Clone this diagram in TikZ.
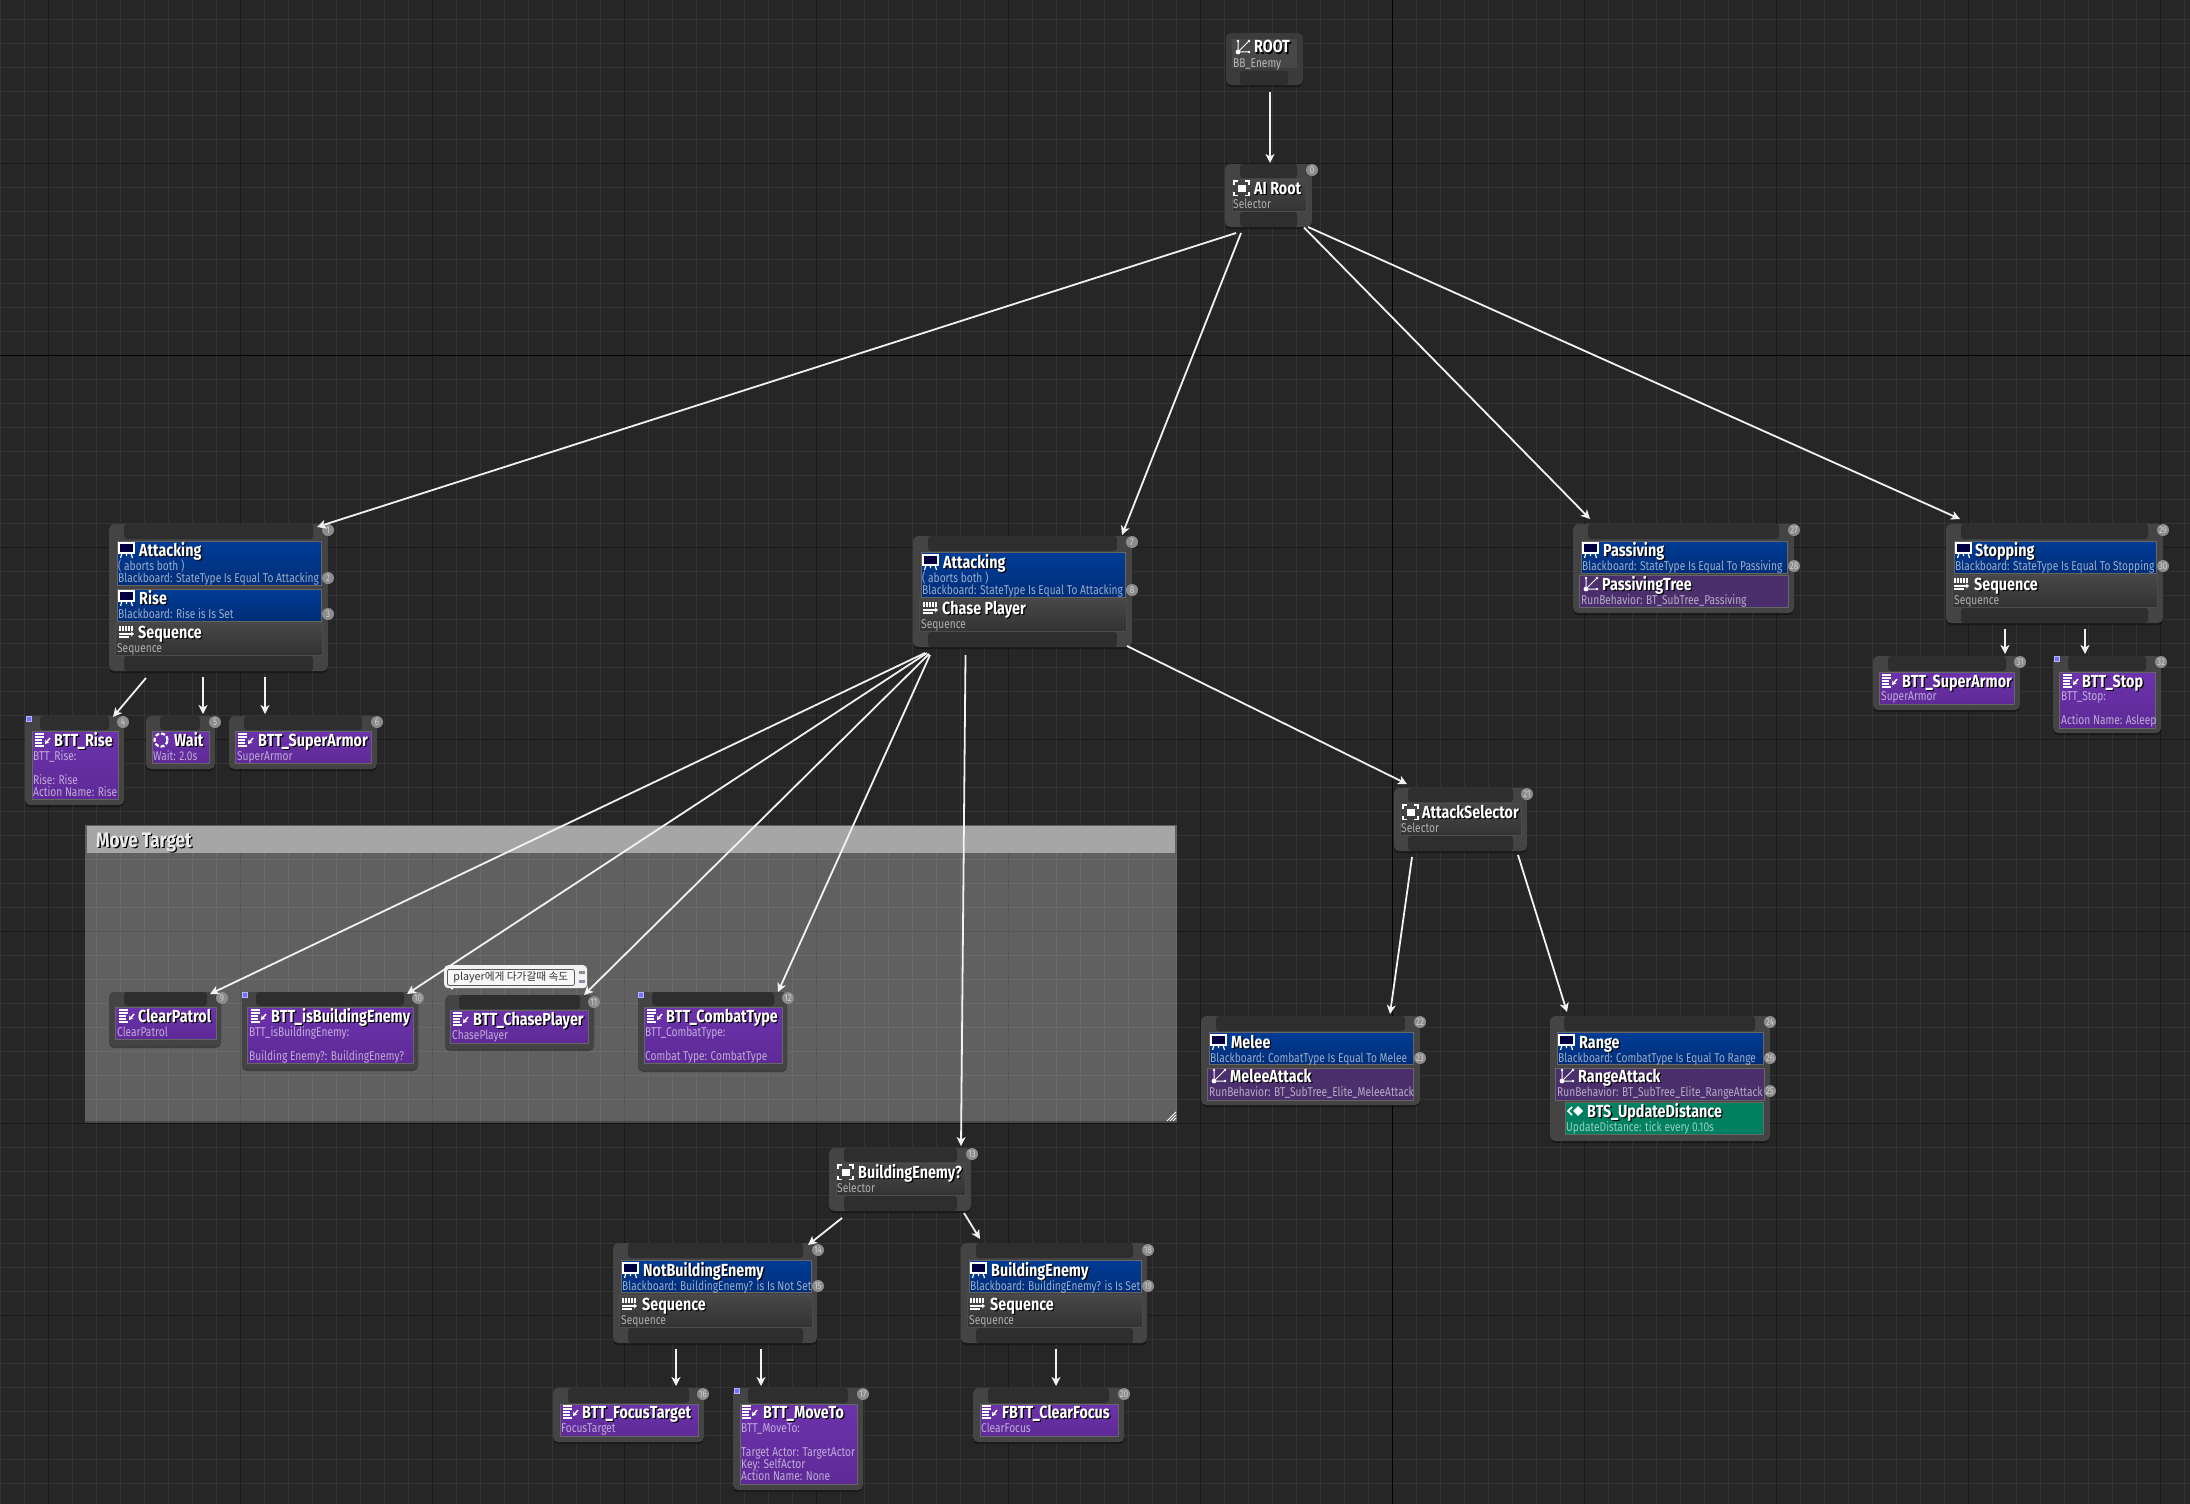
\documentclass[tikz,border=0pt]{standalone}
\usepackage{fontspec}
\setmainfont{Fira Sans}
\newfontfamily\titlefont[FakeStretch=0.82]{Fira Sans}
\newfontfamily\subfont[FakeStretch=0.795]{Fira Sans}
\newfontfamily\krfont{Noto Sans CJK KR}
\usetikzlibrary{arrows.meta, shadows}

\definecolor{bgcol}{HTML}{262626}
\definecolor{minorcol}{HTML}{343434}
\definecolor{majorcol}{HTML}{1A1A1A}
\definecolor{boxcol}{HTML}{444444}
\definecolor{slotcol}{HTML}{2E2E2E}
\definecolor{wirecol}{HTML}{F2F2F2}
\definecolor{bluetop}{HTML}{003C96}
\definecolor{bluebot}{HTML}{002E78}
\definecolor{purpletop}{HTML}{6C32AC}
\definecolor{purplebot}{HTML}{5E2A96}
\definecolor{dimpurple}{HTML}{4A2F6C}
\definecolor{greencol}{HTML}{008060}

\newcommand{\shtext}[1]{\rlap{\hspace*{1.3pt}\raisebox{-1.5pt}{\textcolor{black}{#1}}}#1}

\tikzset{
	treebox/.style={fill=boxcol, rounded corners=5pt, inner sep=0pt, outer sep=0pt, anchor=north west,
		drop shadow={shadow xshift=0pt, shadow yshift=-2pt, opacity=0.35, fill=black}},
	slotbar/.style={fill=slotcol, rounded corners=3pt},
	greypanel/.style={draw=black!70, line width=0.8pt, top color=black!72, bottom color=black!80},
	bluepanel/.style={draw=black!60, line width=0.8pt, top color=bluetop, bottom color=bluebot},
	purplepanel/.style={draw=black!60, line width=0.8pt, top color=purpletop, bottom color=purplebot},
	dimpanel/.style={draw=black!60, line width=0.8pt, fill=dimpurple},
	greenpanel/.style={draw=black!60, line width=0.8pt, fill=greencol},
	titlelbl/.style={font=\fontsize{17.5}{19}\titlefont\bfseries, text=white, anchor=base west, inner sep=0pt, yshift=-6pt},
	sublbl/.style={font=\fontsize{12.8}{14}\subfont, text=white, text opacity=0.6, anchor=base west, inner sep=0pt, yshift=-4pt},
	badge/.style={circle, fill=black!45, minimum size=12pt, inner sep=0pt, font=\fontsize{10}{10}\subfont, text=black!18},
	flag/.style={fill=blue!55!white, draw=white!70!blue, line width=0.6pt},
	wire/.style={->, line width=1.8pt, draw=wirecol},
	pics/bbicon/.style={code={
		\draw[white, line width=1.2pt, fill=blue!25!black] (0,-7) rectangle (15,3);
		\draw[white, line width=1.2pt] (3,3) -- (1.5,8) (12,3) -- (13.5,8) (7.5,3) -- (7.5,6);
	}},
	pics/selicon/.style={code={
		\fill[white] (3.5,-3.5) rectangle (11.5,4);
		\draw[white, line width=1.2pt] (0,-3.5) -- (0,-7) -- (4,-7) (11,-7) -- (15,-7) -- (15,-3.5)
			(0,4) -- (0,7.5) -- (4,7.5) (11,7.5) -- (15,7.5) -- (15,4);
	}},
	pics/seqicon/.style={code={
		\foreach \x in {1,4,7,10,13} \draw[white, line width=1.4pt] (\x,-6) -- (\x,-1);
		\draw[white, line width=1.4pt, -{Stealth[length=3pt,width=5pt]}] (0,2) -- (15,2);
		\draw[white, line width=1.2pt] (0,5) -- (10,5);
	}},
	pics/taskicon/.style={code={
		\foreach \y/\w in {-6/9,-3/9,0/7,3/7,6/9} \draw[white, line width=1.2pt] (0,\y) -- (\w,\y);
		\draw[white, line width=1.5pt, -{Stealth[length=4pt,width=5pt]}] (15,-2) -- (10,4);
	}},
	pics/treeicon/.style={code={
		\draw[white, line width=1pt] (2,-6) -- (2,5) -- (13,5) (2,5) -- (13,-6);
		\fill[white] (2,5) circle (2.4pt) (2,-6) circle (1.3pt) (13,5) circle (1.3pt) (13,-6) circle (1.3pt);
	}},
	pics/waiticon/.style={code={
		\draw[white, line width=2.2pt, dash pattern=on 4pt off 2pt] (7,0) circle (6.5pt);
	}},
	pics/svcicon/.style={code={
		\draw[white, line width=1.7pt] (5,-4) -- (1,0) -- (5,4);
		\fill[white] (11,-5) -- (16,0) -- (11,5) -- (6,0) -- cycle;
	}},
}

\begin{document}
\begin{tikzpicture}[x=1pt, y=-1pt, >={Stealth[length=9pt,width=9pt,inset=2.5pt]}]
	\useasboundingbox (0,0) rectangle (2190,1504);
	\fill[bgcol] (0,0) rectangle (2190,1504);
	% grid
	\foreach \x in {0,24,...,2184} \draw[minorcol, line width=1pt] (\x+0.5,0) -- (\x+0.5,1504);
	\foreach \y in {19,43,...,1500} \draw[minorcol, line width=1pt] (0,\y+0.5) -- (2190,\y+0.5);
	\foreach \x in {48,240,...,2160} \draw[majorcol, line width=1pt] (\x+0.5,0) -- (\x+0.5,1504);
	\foreach \y in {163,355,...,1500} \draw[majorcol, line width=1pt] (0,\y+0.5) -- (2190,\y+0.5);
	\draw[black, line width=1pt] (1392.5,0) -- (1392.5,1504);
	\draw[black, line width=1pt] (0,355.5) -- (2190,355.5);
	% comment box
	\fill[white, opacity=0.27] (85,825) rectangle (1177,1123);
	\fill[black, opacity=0.25] (85,1121) rectangle (1177,1124);
	\fill[black!35] (87,826) rectangle (1175,853);
	\node[font=\fontsize{21}{22}\titlefont\bfseries, text=black!8, anchor=base west, inner sep=0pt] (movetarget) at (96,847) {\shtext{Move Target}};
	\foreach \d in {0,3,6} \draw[white, line width=0.8pt] (1176,1112+\d) -- (1167+\d,1121);
	% tree boxes
	\foreach \id/\xa/\ya/\xb/\yb in {
		airoot/1225/164/1312/227, attl/109/524/328/671, attm/913/536/1132/647,
		pass/1573/524/1794/613, stop/1946/524/2163/623, rise/25/716/124/805,
		wait/146/716/215/769, armorl/229/716/377/769, armorr/1873/656/2020/710,
		stopt/2053/656/2161/733, sela/1394/788/1527/851, melee/1201/1016/1420/1105,
		range/1550/1016/1770/1141, patrol/109/992/221/1046, isb/242/992/418/1069,
		chase/445/995/594/1049, combat/638/992/787/1070, selb/829/1148/971/1211,
		notb/613/1243/817/1343, blde/961/1243/1147/1343, focus/553/1388/704/1442,
		moveto/733/1388/863/1490, clear/973/1388/1124/1442}
		\node[treebox, minimum width={(\xb-\xa)*1pt}, minimum height={(\yb-\ya)*1pt}] (\id) at (\xa,\ya) {};
	\node[treebox, fill=black!77, minimum width=77pt, minimum height=52pt] (root) at (1226,33) {};
	\fill[black!72] (1232,39) rectangle (1297,68);
	% slots
	\foreach \xa/\ya/\xb/\yb in {
		1240/71/1288/85, 1240/164/1297/178, 1240/212/1297/227, 124/524/313/539, 124/656/313/671,
		928/536/1117/551, 928/632/1117/647, 1588/524/1779/539, 1961/524/2148/539, 1961/608/2148/623,
		40/716/109/730, 160/716/200/730, 244/716/362/730, 1888/656/2006/671, 2068/656/2146/671,
		1408/788/1513/802, 1408/836/1513/851, 1216/1016/1405/1031, 1564/1016/1755/1031,
		124/992/207/1006, 256/992/404/1006, 459/995/580/1009, 652/992/774/1006,
		844/1148/957/1162, 844/1196/957/1211, 628/1243/803/1258, 628/1328/803/1343,
		976/1243/1133/1258, 976/1328/1133/1343, 568/1388/689/1403, 748/1388/848/1403, 988/1388/1109/1403}
		\fill[slotbar] (\xa,\ya) rectangle (\xb,\yb);
	% panels
	\foreach \xa/\ya/\xb/\yb in {1232/179/1306/211, 115/623/322/655, 919/599/1126/631, 1952/575/2157/607,
		1400/803/1521/835, 836/1163/965/1195, 619/1295/812/1327, 967/1295/1142/1327}
		\draw[greypanel] (\xa,\ya) rectangle (\xb,\yb);
	\foreach \xa/\ya/\xb/\yb in {117/541/321/585, 117/589/321/621, 921/552/1125/597, 1581/541/1787/573,
		1954/541/2156/573, 1209/1032/1413/1064, 1557/1032/1763/1064, 621/1260/811/1292, 969/1260/1141/1292}
		\draw[bluepanel] (\xa,\ya) rectangle (\xb,\yb);
	\foreach \xa/\ya/\xb/\yb in {32/731/118/799, 152/731/209/763, 235/731/371/763, 1879/672/2014/704,
		2059/672/2155/728, 115/1007/216/1039, 247/1007/413/1063, 450/1010/588/1043, 644/1007/782/1063,
		560/1404/698/1436, 740/1404/857/1484, 980/1404/1118/1436}
		\draw[purplepanel] (\xa,\ya) rectangle (\xb,\yb);
	\foreach \xa/\ya/\xb/\yb in {1579/575/1788/607, 1207/1068/1413/1100, 1555/1068/1764/1100}
		\draw[dimpanel] (\xa,\ya) rectangle (\xb,\yb);
	\draw[greenpanel] (1565,1102) rectangle (1763,1134);
	% icons
	\foreach \xp/\yp in {119/550, 119/598, 923/562, 1583/550, 1956/550, 1211/1042, 1559/1042, 623/1270, 971/1270}
		\pic at (\xp,\yp) {bbicon};
	\foreach \xp/\yp in {1234/188, 1403/812, 838/1172}
		\pic at (\xp,\yp) {selicon};
	\foreach \xp/\yp in {119/632, 923/608, 1954/584, 622/1304, 970/1304}
		\pic at (\xp,\yp) {seqicon};
	\foreach \xp/\yp in {35/740, 238/740, 1882/681, 2063/681, 119/1016, 251/1016, 453/1019, 647/1016, 563/1412, 742/1412, 982/1412}
		\pic at (\xp,\yp) {taskicon};
	\foreach \xp/\yp in {1236/47, 1584/584, 1212/1076, 1560/1076}
		\pic at (\xp,\yp) {treeicon};
	\pic at (154,740) {waiticon};
	\pic at (1567,1111) {svcicon};
	% titles
	\foreach \xp/\yp/\txt [count=\i] in {
		1254/47/ROOT, 1254/188/AI Root, 139/550/Attacking, 139/598/Rise, 138/632/Sequence,
		54/740/BTT\_Rise, 174/740/Wait, 258/740/BTT\_SuperArmor, 943/562/Attacking, 942/608/Chase Player,
		1603/550/Passiving, 1602/584/PassivingTree, 1975/550/Stopping, 1974/584/Sequence,
		1902/681/BTT\_SuperArmor, 2082/681/BTT\_Stop, 1422/812/AttackSelector,
		1231/1042/Melee, 1230/1076/MeleeAttack, 1579/1042/Range, 1578/1076/RangeAttack,
		1587/1111/BTS\_UpdateDistance, 138/1016/ClearPatrol, 271/1016/BTT\_isBuildingEnemy,
		473/1019/BTT\_ChasePlayer, 666/1016/BTT\_CombatType, 858/1172/BuildingEnemy?,
		643/1270/NotBuildingEnemy, 642/1304/Sequence, 991/1270/BuildingEnemy, 990/1304/Sequence,
		582/1412/BTT\_FocusTarget, 763/1412/BTT\_MoveTo, 1002/1412/FBTT\_ClearFocus}
		\node[titlelbl] (title\i) at (\xp,\yp) {\shtext{\txt}};
	% sub lines
	\foreach \xp/\yp/\txt [count=\i] in {
		1233/63/BB\_Enemy, 1233/204/Selector, 118/566/( aborts both ),
		118/578/Blackboard: StateType Is Equal To Attacking, 118/614/Blackboard: Rise is Is Set, 117/648/Sequence,
		33/756/BTT\_Rise:, 33/780/Rise: Rise, 33/792/Action Name: Rise, 153/756/Wait: 2.0s, 237/756/SuperArmor,
		922/578/( aborts both ), 922/590/Blackboard: StateType Is Equal To Attacking, 921/624/Sequence,
		1582/566/Blackboard: StateType Is Equal To Passiving, 1581/600/RunBehavior: BT\_SubTree\_Passiving,
		1955/566/Blackboard: StateType Is Equal To Stopping, 1954/600/Sequence,
		1881/696/SuperArmor, 2061/696/BTT\_Stop:, 2061/720/Action Name: Asleep, 1401/828/Selector,
		1210/1058/Blackboard: CombatType Is Equal To Melee, 1209/1092/RunBehavior: BT\_SubTree\_Elite\_MeleeAttack,
		1558/1058/Blackboard: CombatType Is Equal To Range, 1557/1092/RunBehavior: BT\_SubTree\_Elite\_RangeAttack,
		1566/1127/UpdateDistance: tick every 0.10s, 117/1032/ClearPatrol, 249/1032/BTT\_isBuildingEnemy:,
		249/1056/Building Enemy?: BuildingEnemy?, 452/1035/ChasePlayer, 645/1032/BTT\_CombatType:,
		645/1056/Combat Type: CombatType, 837/1188/Selector, 622/1286/Blackboard: BuildingEnemy? is Is Not Set,
		621/1320/Sequence, 970/1286/Blackboard: BuildingEnemy? is Is Set, 969/1320/Sequence,
		561/1428/FocusTarget, 741/1428/BTT\_MoveTo:, 741/1452/Target Actor: TargetActor, 741/1464/Key: SelfActor,
		741/1476/Action Name: None, 981/1428/ClearFocus}
		\node[sublbl] (sub\i) at (\xp,\yp) {\txt};
	% badges, numbered in order
	\foreach \xp/\yp [count=\i from 0] in {
		1312/170, 328/530, 328/578, 328/614, 123/722, 215/722, 377/722, 1132/542, 1132/590, 222/998, 418/998,
		594/1002, 788/998, 972/1154, 818/1250, 818/1286, 703/1394, 863/1394, 1148/1250, 1148/1286, 1124/1394,
		1527/794, 1420/1022, 1420/1058, 1770/1022, 1770/1091, 1770/1058, 1794/530, 1794/566, 2163/530, 2163/566,
		2020/662, 2161/662}
		\node[badge] (badge\i) at (\xp,\yp) {\i};
	% decorator flags
	\foreach \xp/\yp in {29/719, 2057/659, 245/995, 641/995, 737/1391}
		\draw[flag] (\xp-2.5,\yp-2.5) rectangle (\xp+2.5,\yp+2.5);
	% comment bubble
	\fill[black!5] (452,990) -- (449,986) -- (455,986) -- cycle;
	\node[fill=black!5, rounded corners=4pt, inner sep=0pt, anchor=north west, minimum width=143pt, minimum height=23pt] (bubble) at (444,965) {};
	\node[draw=black!65, line width=0.8pt, fill=black!3, rounded corners=2pt, inner sep=0pt, anchor=north west, minimum width=127pt, minimum height=16pt,
		font=\fontsize{10.7}{13}\krfont, text=black!80] (bubbletext) at (447,969) {player에게 다가갈때 속도};
	\fill[black!45] (579,970.5) rectangle (585,973.5);
	\fill[blue!30!black!45] (579,979.5) rectangle (585,982.5);
	% wires
	\foreach \a/\ax/\ay/\b/\bx/\by in {
		root/44/7/airoot/45/-1, airoot/11/6/attl/208/3, airoot/16/6/attm/209/-1,
		airoot/79/0.5/pass/17/-5, airoot/83/0/stop/14/-5, attl/37/7/rise/88/1,
		attl/94/6/wait/57/-2, attl/156/6/armorl/36/-2, attm/12/6/patrol/101/2,
		attm/14/6/isb/165/2, attm/16/7/chase/139/0, attm/17/8/combat/140/0,
		attm/52.5/8/selb/132/-2, attm/214/-1/sela/13/-4, sela/18/6/melee/189/-2,
		sela/124/4/range/17/-4, selb/13/7/notb/195/2, selb/135/2/blde/19/-4,
		notb/63/6/focus/123/-2, notb/148/6/moveto/28/-2, blde/95/6/clear/83/-2,
		stop/59/6/armorr/132/-2, stop/139/6/stopt/32/-2}
		\draw[wire] ([shift={(\ax,\ay)}]\a.south west) -- ([shift={(\bx,\by)}]\b.north west);
\end{tikzpicture}
\end{document}
